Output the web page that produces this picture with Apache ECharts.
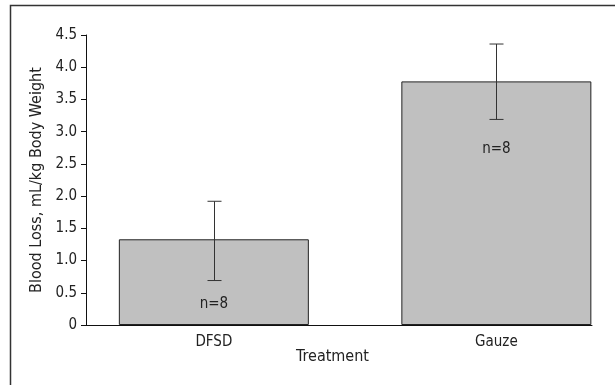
<!DOCTYPE html>
<html>
<head>
<meta charset="utf-8">
<script src="https://cdn.jsdelivr.net/npm/echarts@6/dist/echarts.min.js"></script>
<style>
html,body{margin:0;padding:0;background:#fff;}
#chart{width:615px;height:385px;}
</style>
</head>
<body>
<div id="chart"></div>
<script>
const categories = ['DFSD', 'Gauze'];
const bloodLoss = [1.33, 3.78];
const errLow = [0.69, 3.19];
const errHigh = [1.92, 4.36];
const nLabels = ['n=8', 'n=8'];
const yTitle = 'Blood Loss, mL/kg Body Weight';
const xTitle = 'Treatment';

const FONT = '"Liberation Sans Narrow", "DejaVu Sans Condensed", "Arial Narrow", sans-serif';
const TXT = '#222';

const chart = echarts.init(document.getElementById('chart'), null, {renderer: 'canvas'});

const labelPos = [
  {position: 'insideBottom', distance: 13},
  {position: 'insideTop', distance: 60}
];

const option = {
  backgroundColor: '#fff',
  animation: false,
  graphic: [{
    type: 'rect',
    shape: {x: 10.5, y: 5.5, width: 700, height: 500},
    style: {fill: null, stroke: '#333', lineWidth: 1.5},
    silent: true
  }],
  grid: [
    {left: 72.6, width: 565, top: 35, height: 290, outerBoundsMode: 'none', containLabel: false},
    {left: 86, width: 506, top: 35, height: 290, outerBoundsMode: 'none', containLabel: false}
  ],
  xAxis: [
    {
      type: 'category', gridIndex: 0, data: categories,
      axisLine: {show: false}, axisTick: {show: false},
      axisLabel: {color: TXT, fontFamily: FONT, fontSize: 15, margin: 10}
    },
    {
      type: 'value', gridIndex: 1, min: 0, max: 1,
      axisLine: {show: true, lineStyle: {color: '#111', width: 1}},
      axisTick: {show: false}, axisLabel: {show: false}, splitLine: {show: false},
      name: xTitle, nameLocation: 'middle', nameGap: 24,
      nameTextStyle: {color: TXT, fontFamily: FONT, fontSize: 16, padding: [0, 13, 0, 0]}
    }
  ],
  yAxis: [
    {type: 'value', gridIndex: 0, min: 0, max: 4.5, show: false},
    {
      type: 'value', gridIndex: 1, min: 0, max: 4.5, interval: 0.5,
      axisLine: {show: true, lineStyle: {color: '#111', width: 1}},
      axisTick: {show: true, inside: false, length: 5, lineStyle: {color: '#111'}},
      splitLine: {show: false},
      axisLabel: {
        color: TXT, fontFamily: FONT, fontSize: 15, margin: 9,
        formatter: v => v === 0 ? '0' : v.toFixed(1)
      },
      name: yTitle, nameLocation: 'middle', nameGap: 40,
      nameTextStyle: {color: TXT, fontFamily: FONT, fontSize: 16}
    }
  ],
  series: [
    {
      type: 'bar', xAxisIndex: 0, yAxisIndex: 0,
      barWidth: 190,
      data: bloodLoss.map((v, i) => ({
        value: v,
        label: Object.assign({show: true, formatter: nLabels[i], color: TXT, fontFamily: FONT, fontSize: 15}, labelPos[i])
      })),
      itemStyle: {color: '#c0c0c0', borderColor: '#222', borderWidth: 1}
    },
    {
      type: 'custom', xAxisIndex: 0, yAxisIndex: 0,
      data: categories.map((c, i) => [i, errLow[i], errHigh[i]]),
      renderItem: function (params, api) {
        const lo = api.coord([api.value(0), api.value(1)]);
        const hi = api.coord([api.value(0), api.value(2)]);
        const x = Math.round(lo[0]) + 0.5;
        const cw = 7;
        const st = {stroke: '#333', lineWidth: 1};
        return {
          type: 'group',
          children: [
            {type: 'line', shape: {x1: x, y1: hi[1], x2: x, y2: lo[1]}, style: st},
            {type: 'line', shape: {x1: x - cw, y1: hi[1], x2: x + cw, y2: hi[1]}, style: st},
            {type: 'line', shape: {x1: x - cw, y1: lo[1], x2: x + cw, y2: lo[1]}, style: st}
          ]
        };
      },
      z: 5
    }
  ]
};
chart.setOption(option);
</script>
</body>
</html>
